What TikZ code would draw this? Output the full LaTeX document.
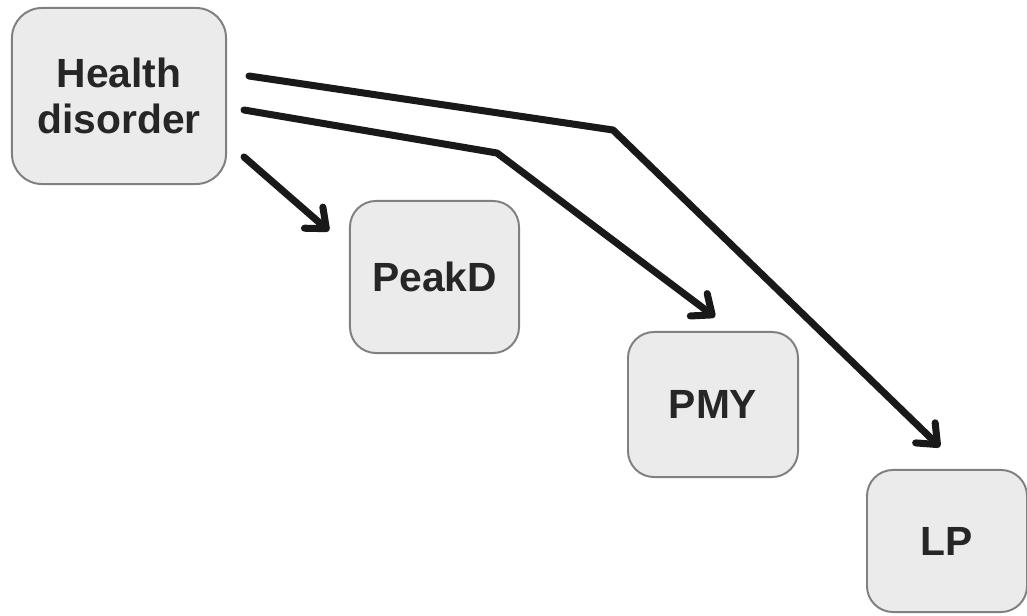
\documentclass[tikz,border=0pt]{standalone}
\usepackage{fontspec}
\setmainfont{Liberation Sans}
\usepackage{tikz}
\usetikzlibrary{positioning, calc, arrows.meta}

\begin{document}
\begin{tikzpicture}[x=0.025cm, y=-0.025cm,
    box/.style={draw=black!50, line width=1.4pt, fill=black!8, rounded corners=0.65cm,
      font=\fontsize{29}{33}\selectfont\bfseries, text=black!85, align=center, inner sep=0pt},
    arr/.style={line width=5pt, draw=black!90, line join=round, line cap=round,
      -{Straight Barb[length=0.42cm, width=0.7cm, line cap=round, line join=round]}}]
    \useasboundingbox (0,0) rectangle (1027,616);

    % Nodes
    \node[box, minimum width=5.35cm, minimum height=4.4cm, rounded corners=0.75cm] (hd) at (119,96) {Health\\disorder};
    \node[box, minimum width=4.225cm, minimum height=3.8cm] (peakd) at (434.5,277) {PeakD};
    \node[box, minimum width=4.25cm, minimum height=3.625cm] (pmy) at (713,404.5) {PMY};
    \node[box, minimum width=4.0cm, minimum height=3.55cm] (lp) at (947,541) {LP};

    % Bends
    \coordinate (b1) at (497,153);
    \coordinate (b2) at (613,130);

    \draw[arr] ([shift={(17,61)}]hd.east) -- ([shift={(-20,31)}]peakd.north west);
    \draw[arr] ([shift={(17,14)}]hd.east) -- (b1) -- ([shift={(2,-14)}]pmy.north);
    \draw[arr] ([shift={(22,-20)}]hd.east) -- (b2) -- ([shift={(-7,-22)}]lp.north);
\end{tikzpicture}
\end{document}
